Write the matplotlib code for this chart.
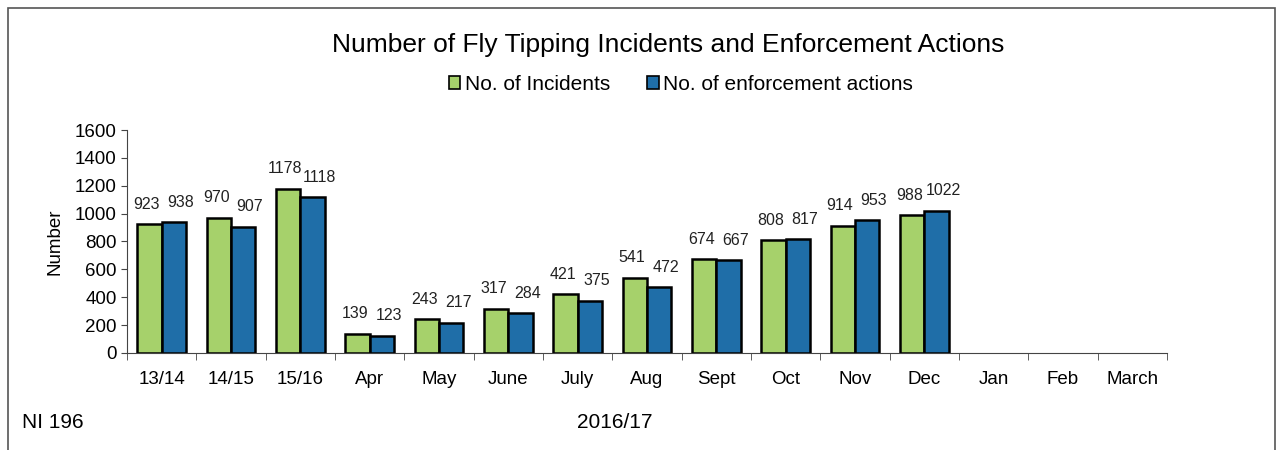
import numpy as np
import matplotlib.pyplot as plt
from matplotlib.patches import Rectangle, Patch

plt.rcParams['font.family'] = ['Liberation Sans', 'DejaVu Sans']

kategorie = ['13/14', '14/15', '15/16', 'Apr', 'May', 'June', 'July', 'Aug',
             'Sept', 'Oct', 'Nov', 'Dec', 'Jan', 'Feb', 'March']
incydenty = [923, 970, 1178, 139, 243, 317, 421, 541, 674, 808, 914, 988]
egzekucje = [938, 907, 1118, 123, 217, 284, 375, 472, 667, 817, 953, 1022]

zielony = '#a6d16b'
niebieski = '#1f6ea8'

fig = plt.figure(figsize=(12.8, 4.5), dpi=100)
ax = fig.add_axes([0.0992, 0.2156, 0.8125, 0.4955])

x = np.arange(len(incydenty))
w = 0.35
b1 = ax.bar(x - w / 2, incydenty, w, color=zielony, edgecolor='black', linewidth=1.8)
b2 = ax.bar(x + w / 2, egzekucje, w, color=niebieski, edgecolor='black', linewidth=1.8)

# etykiety wartosci - zielone lekko w lewo, niebieskie w prawo
for bars, dx in ((b1, -2), (b2, 5)):
    for b in bars:
        ax.annotate(str(int(b.get_height())), (b.get_x() + b.get_width() / 2, b.get_height()),
                    xytext=(dx, 9), textcoords='offset points', ha='center', va='bottom',
                    fontsize=11.5, color='#222222')

ax.set_xlim(-0.5, len(kategorie) - 0.5)
ax.set_ylim(0, 1600)
ax.set_yticks(range(0, 1601, 200))
ax.set_xticks(range(len(kategorie)))
ax.set_xticklabels(kategorie)
ax.set_xticks(np.arange(-0.5, len(kategorie), 1), minor=True)
ax.tick_params(axis='x', which='major', length=0, pad=13, labelsize=13.5)
ax.tick_params(axis='x', which='minor', length=5, direction='out', color='#444444')
ax.tick_params(axis='y', length=4, labelsize=13.5, color='#444444')
ax.spines['top'].set_visible(False)
ax.spines['right'].set_visible(False)
ax.spines['left'].set_color('#444444')
ax.spines['bottom'].set_color('#444444')
ax.set_ylabel('Number', fontsize=13.5, labelpad=8)

fig.text(0.522, 0.9, 'Number of Fly Tipping Incidents and Enforcement Actions',
         ha='center', va='center', fontsize=19)
uchwyty = [Patch(facecolor=zielony, edgecolor='black', linewidth=1.2),
           Patch(facecolor=niebieski, edgecolor='black', linewidth=1.2)]
fig.legend(uchwyty, ['No. of Incidents', 'No. of enforcement actions'], ncol=2,
           loc='center', bbox_to_anchor=(0.532, 0.812), frameon=False, fontsize=15,
           handlelength=0.55, handleheight=0.55, handletextpad=0.2, columnspacing=1.8)

fig.text(0.017, 0.062, 'NI 196', fontsize=15, va='center')
fig.text(0.4805, 0.062, '2016/17', fontsize=15, va='center', ha='center')

fig.patches.append(Rectangle((0.006, -0.1), 0.99, 1.082, transform=fig.transFigure,
                             fill=False, edgecolor='#555555', linewidth=1.2, clip_on=False))

fig.savefig('out.png', dpi=100)
